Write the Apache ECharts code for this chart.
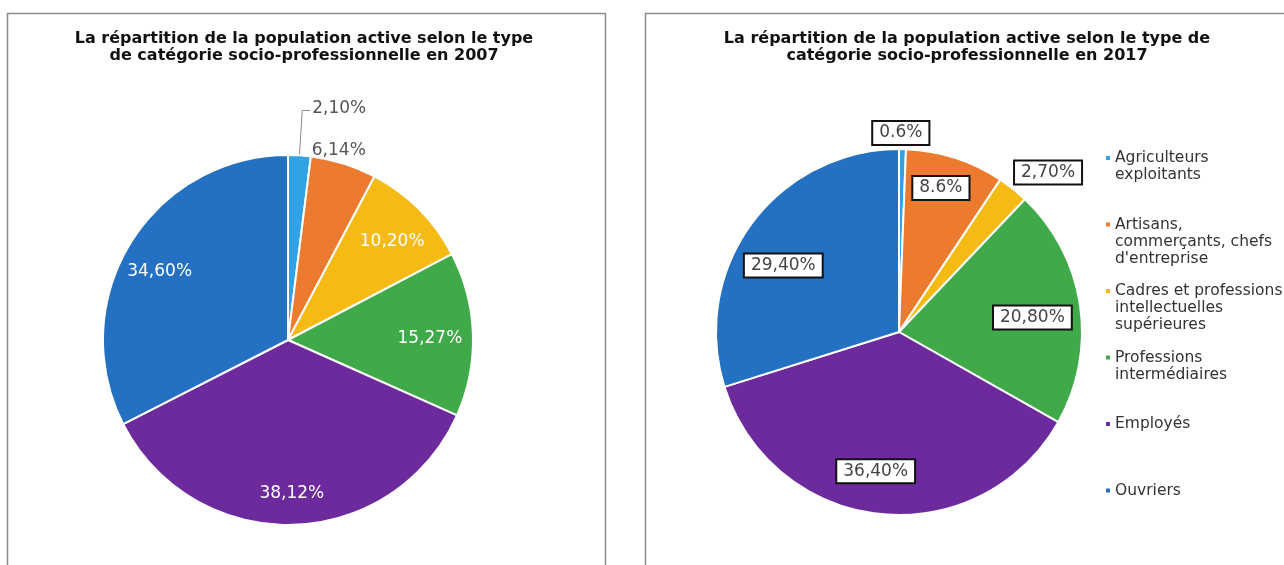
<!DOCTYPE html>
<html>
<head>
<meta charset="utf-8" />
<title>Population active par CSP</title>
<script src="https://cdn.jsdelivr.net/npm/echarts@6.0.0/dist/echarts.min.js"></script>
<style>
  html, body { margin: 0; padding: 0; background: #fff; }
</style>
</head>
<body>
<div id="main" style="width: 1284px;height:565px;"></div>
<script type="text/javascript">
// catégories (avec retours à la ligne comme dans la légende)
var categories = [
  'Agriculteurs\nexploitants',
  'Artisans,\ncommerçants, chefs\nd\'entreprise',
  'Cadres et professions\nintellectuelles\nsupérieures',
  'Professions\nintermédiaires',
  'Employés',
  'Ouvriers'
];
var colors = ['#32a2e4', '#ec7a2f', '#f6ba14', '#40aa4a', '#6d2a9d', '#2470c2'];

var values2007 = [2.10, 6.14, 10.20, 15.27, 38.12, 34.60];
var labels2007 = ['2,10%', '6,14%', '10,20%', '15,27%', '38,12%', '34,60%'];
var outside2007 = [true, true, false, false, false, false];

var values2017 = [0.6, 8.6, 2.7, 20.8, 36.4, 29.4];
var labels2017 = ['0.6%', '8.6%', '2,70%', '20,80%', '36,40%', '29,40%'];
var outside2017 = [true, false, true, false, false, false];

var FONT = "'DejaVu Sans', sans-serif";

var myChart = echarts.init(document.getElementById('main'));

// données de la série principale (labels extérieurs seulement)
function mainData(values, outside, year) {
  return values.map(function (v, i) {
    var item = { name: categories[i], value: v, label: { show: outside[i] }, labelLine: { show: false } };
    if (year === 2007 && i === 0) {
      item.labelLine = { show: true, length: 45, length2: 8, lineStyle: { color: '#8a8a8a', width: 1 } };
    }
    return item;
  });
}
// données de la série superposée (labels intérieurs)
function innerData(values, outside) {
  return values.map(function (v, i) {
    return { name: categories[i], value: v, label: { show: !outside[i] } };
  });
}

var boxLabel = {
  color: '#444',
  fontSize: 17,
  fontFamily: FONT,
  backgroundColor: '#fff',
  borderColor: '#111',
  borderWidth: 2,
  padding: [3, 6, 2, 6]
};

var option = {
  color: colors,
  animation: false,
  title: [
    {
      text: 'La répartition de la population active selon le type\nde catégorie socio-professionnelle en 2007',
      left: 299, top: 25, textAlign: 'center',
      textStyle: { fontSize: 16, fontWeight: 'bold', color: '#111', lineHeight: 17, fontFamily: FONT }
    },
    {
      text: 'La répartition de la population active selon le type de\ncatégorie socio-professionnelle en 2017',
      left: 962, top: 25, textAlign: 'center',
      textStyle: { fontSize: 16, fontWeight: 'bold', color: '#111', lineHeight: 17, fontFamily: FONT }
    }
  ],
  graphic: [
    { type: 'rect', shape: { x: 7.5, y: 13.5, width: 598, height: 600 }, style: { fill: 'none', stroke: '#8c8c8c', lineWidth: 1.5 } },
    { type: 'rect', shape: { x: 645.5, y: 13.5, width: 700, height: 600 }, style: { fill: 'none', stroke: '#8c8c8c', lineWidth: 1.5 } }
  ],
  legend: {
    orient: 'vertical',
    left: 1101,
    top: 144,
    itemGap: 14.5,
    itemWidth: 4,
    itemHeight: 52,
    selectedMode: false,
    icon: 'path://M0,0L0.01,0M0,14h8v8h-8zM0,104L0.01,104',
    itemStyle: { borderWidth: 0 },
    data: categories,
    // chaque texte est complété à 3 lignes pour rester aligné en haut
    formatter: function (name) {
      var n = name.split('\n').length;
      var pad = '';
      for (var k = n; k < 3; k++) pad += '\n ';
      return name + pad;
    },
    textStyle: { fontSize: 15.5, lineHeight: 17, color: '#333', fontFamily: FONT }
  },
  series: [
    {
      name: '2007',
      type: 'pie',
      center: [288, 340],
      radius: 185,
      startAngle: 90,
      avoidLabelOverlap: false,
      itemStyle: { borderColor: '#fff', borderWidth: 2 },
      label: {
        position: 'outside',
        color: '#555',
        fontSize: 17,
        fontFamily: FONT,
        formatter: function (p) { return labels2007[p.dataIndex]; }
      },
      labelLine: { length: 14, length2: 0 },
      labelLayout: function (p) {
        if (p.dataIndex === 0) return { dx: -3, dy: -2 };
        if (p.dataIndex === 1) return { dx: -41 };
        return {};
      },
      data: mainData(values2007, outside2007, 2007)
    },
    {
      name: '2007 labels',
      type: 'pie',
      center: [288, 340],
      radius: [104, 184],
      startAngle: 90,
      silent: true,
      avoidLabelOverlap: false,
      itemStyle: { color: 'rgba(0,0,0,0)', borderWidth: 0 },
      label: {
        position: 'inside',
        color: '#fff',
        fontSize: 17,
        fontFamily: FONT,
        formatter: function (p) { return labels2007[p.dataIndex]; }
      },
      labelLayout: function (p) {
        if (p.dataIndex === 2) return { dy: 5 };
        if (p.dataIndex === 3) return { dx: -5, dy: 3 };
        if (p.dataIndex === 4) return { dy: 7 };
        if (p.dataIndex === 5) return { dx: -3, dy: 8 };
        return {};
      },
      data: innerData(values2007, outside2007)
    },
    {
      name: '2017',
      type: 'pie',
      center: [899, 332],
      radius: 183,
      startAngle: 90,
      avoidLabelOverlap: false,
      itemStyle: { borderColor: '#fff', borderWidth: 2 },
      label: Object.assign({
        position: 'outside',
        formatter: function (p) { return labels2017[p.dataIndex]; }
      }, boxLabel),
      labelLine: { show: false, length: 16, length2: 0 },
      labelLayout: function (p) {
        if (p.dataIndex === 0) return { dx: -p.labelRect.width / 2 - 5 };
        if (p.dataIndex === 2) return { dx: -13, dy: -4 };
        return {};
      },
      data: mainData(values2017, outside2017, 2017)
    },
    {
      name: '2017 labels',
      type: 'pie',
      center: [899, 332],
      radius: [100, 186],
      startAngle: 90,
      silent: true,
      avoidLabelOverlap: false,
      itemStyle: { color: 'rgba(0,0,0,0)', borderWidth: 0 },
      label: Object.assign({
        position: 'inside',
        formatter: function (p) { return labels2017[p.dataIndex]; }
      }, boxLabel),
      labelLayout: function (p) {
        if (p.dataIndex === 1) return { dx: -3, dy: -5 };
        if (p.dataIndex === 3) return { dx: -11, dy: 7 };
        if (p.dataIndex === 4) return { dx: -8, dy: -6 };
        if (p.dataIndex === 5) return { dx: 2, dy: 20 };
        return {};
      },
      data: innerData(values2017, outside2017)
    }
  ]
};

myChart.setOption(option);
</script>
</body>
</html>
